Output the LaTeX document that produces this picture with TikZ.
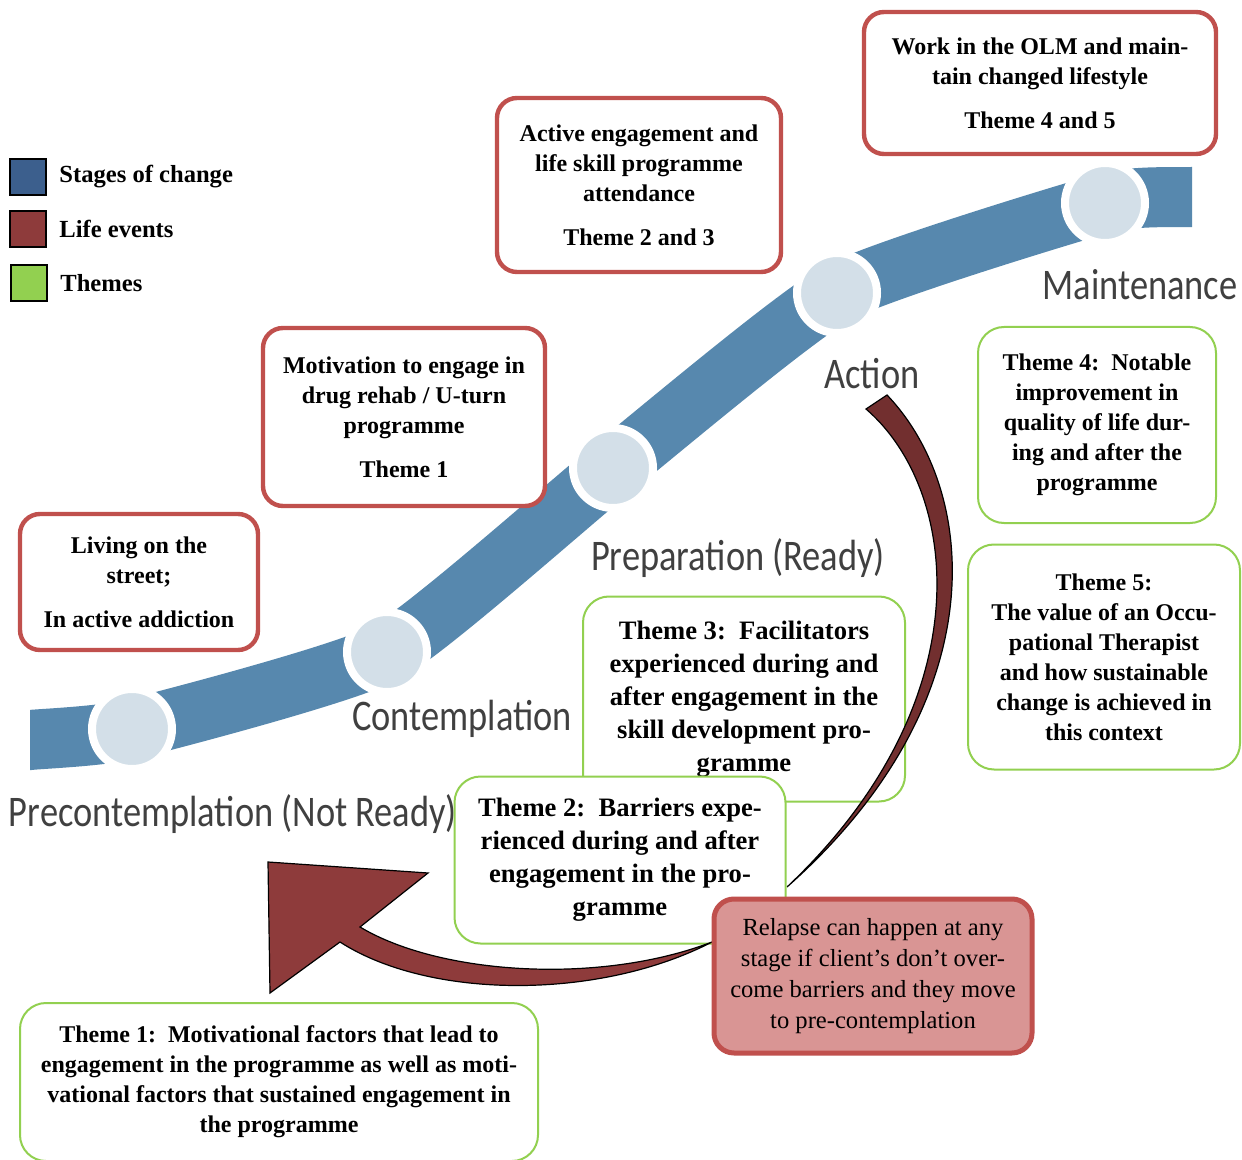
\documentclass[tikz,border=0pt]{standalone}
\usepackage{fontspec}
\setmainfont{Liberation Serif}
\newfontfamily\stagefont{Carlito}
\usepackage{graphicx}
\usetikzlibrary{positioning}
\definecolor{stageblue}{HTML}{5788AE}
\definecolor{dotfill}{HTML}{D3DFE8}
\definecolor{keyblue}{HTML}{3C5F8D}
\definecolor{keyred}{HTML}{8E3B3B}
\definecolor{keygreen}{HTML}{92D050}
\definecolor{evred}{HTML}{C0504D}
\definecolor{relfill}{HTML}{D99594}
\definecolor{crescent}{HTML}{722F2F}
\definecolor{labelgrey}{HTML}{404040}
\newcommand{\tallstage}[1]{\scalebox{1}[1.2]{#1}}
\tikzset{
  event/.style={draw=evred, line width=2.2pt, fill=white, rounded corners=10pt, align=center, inner sep=0pt,
    font=\bfseries\fontsize{12}{15}\selectfont},
  theme/.style={draw=keygreen, line width=1pt, fill=white, rounded corners=13pt, align=center, inner sep=0pt,
    font=\bfseries\fontsize{12}{15}\selectfont},
  bigtheme/.style={theme, font=\bfseries\fontsize{13.3}{16.5}\selectfont},
  relapse/.style={event, fill=relfill, line width=2.5pt, font=\fontsize{12.3}{15.5}\selectfont},
  dot/.style={circle, fill=dotfill, draw=white, line width=4pt, minimum size=40pt, inner sep=0pt},
  stage/.style={font=\stagefont\fontsize{18.2}{20}\selectfont, text=labelgrey, inner sep=0pt},
  key/.style={draw=black, line width=1pt, minimum size=18pt, inner sep=0pt},
  keytext/.style={font=\bfseries\fontsize{12.3}{14}\selectfont, inner sep=0pt},
  band/.style={draw=stageblue, line width=30pt},
  bigarrow/.style={fill=keyred, draw=black, line width=0.6pt},
}
\begin{document}
\begin{tikzpicture}[x=0.5pt, y=-0.5pt]
    \clip (0,0) rectangle (1242,1160);
    \fill[white] (0,0) rectangle (1242,1160);
    % legend
    \node[key, fill=keyblue] (k1) at (28,177) {};
    \node[key, fill=keyred] (k2) at (28,229) {};
    \node[key, fill=keygreen] (k3) at (29,283) {};
    \node[keytext, right=6pt of k1] (t1) {Stages of change};
    \node[keytext, right=6pt of k2] (t2) {Life events};
    \node[keytext, right=6pt of k3] (t3) {Themes};
    % stages of change band
    \begin{scope}
      \clip (30,0) rectangle (1192,1160);
      \draw[band] plot[smooth, tension=0.3] coordinates {(-20,745) (30,740) (132,729) (387,652) (613,468) (837,293) (1105,203) (1192,197) (1240,194)};
    \end{scope}
    \node[dot] (s1) at (132,729) {};
    \node[dot] (s2) at (387,652) {};
    \node[dot] (s3) at (613,468) {};
    \node[dot] (s4) at (837,293) {};
    \node[dot] (s5) at (1105,203) {};
    \node[stage] (pre)  at (233,814)  {\tallstage{Precontemplation (Not Ready)}};
    \node[stage] (con)  at (462,719)  {\tallstage{Contemplation}};
    \node[stage] (prep) at (738,558)  {\tallstage{Preparation (Ready)}};
    \node[stage] (act)  at (872,374)  {\tallstage{Action}};
    \node[stage] (main) at (1140,285) {\tallstage{Maintenance}};
    % life events
    \node[event, minimum width=119pt, minimum height=68pt] (street) at (139,582)
      {Living on the\\ street;\\[7pt] In active addiction};
    \node[event, minimum width=141pt, minimum height=89pt] (motiv) at (404,417)
      {Motivation to engage in\\ drug rehab / U-turn\\ programme\\[7pt] Theme 1};
    \node[event, minimum width=142pt, minimum height=87pt] (active) at (639,185)
      {Active engagement and\\ life skill programme\\ attendance\\[7pt] Theme 2 and 3};
    \node[event, minimum width=176pt, minimum height=71pt] (olm) at (1040,83)
      {Work in the OLM and main-\\ tain changed lifestyle\\[7pt] Theme 4 and 5};
    % themes
    \node[theme, minimum width=119pt, minimum height=98pt] (th4) at (1097,425)
      {Theme 4:\ \ Notable\\ improvement in\\ quality of life dur-\\ ing and after the\\ programme};
    \node[theme, minimum width=136pt, minimum height=112.5pt] (th5) at (1104,657)
      {Theme 5:\\ The value of an Occu-\\ pational Therapist\\ and how sustainable\\ change is achieved in\\ this context};
    \node[bigtheme, minimum width=161pt, minimum height=102.5pt] (th3) at (744,699)
      {Theme 3:\ \ Facilitators\\ experienced during and\\ after engagement in the\\ skill development pro-\\ gramme};
    % relapse from action
    \draw[fill=crescent, draw=black, line width=0.6pt] (887,395) .. controls (978,490) and (998,700) .. (787,887)
      .. controls (985,700) and (960,490) .. (866,409) -- cycle;
    \node[bigtheme, minimum width=165.5pt, minimum height=83.5pt] (th2) at (620,860)
      {Theme 2:\ \ Barriers expe-\\ rienced during and after\\ engagement in the pro-\\ gramme};
    \node[theme, minimum width=259pt, minimum height=79pt] (th1) at (279,1082)
      {Theme 1:\ \ Motivational factors that lead to\\ engagement in the programme as well as moti-\\ vational factors that sustained engagement in\\ the programme};
    % back to precontemplation
    \draw[bigarrow] (268,862) -- (428,873) -- (360,927)
      .. controls (440,975) and (600,985) .. (712,942)
      .. controls (600,1000) and (430,1000) .. (340,942)
      -- (270,993) -- cycle;
    \node[relapse, minimum width=159pt, minimum height=77pt] (rel) at (873,976)
      {Relapse can happen at any\\ stage if client’s don’t over-\\ come barriers and they move\\ to pre-contemplation};
\end{tikzpicture}
\end{document}
